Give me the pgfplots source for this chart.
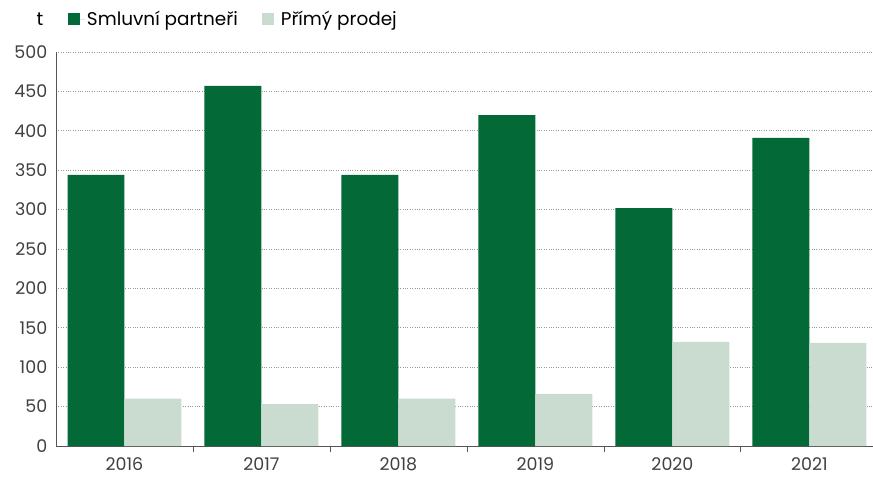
\documentclass[border=0pt]{standalone}
\usepackage{fontspec}
\setmainfont{Poppins}
\usepackage{pgfplots}
\pgfplotsset{compat=1.18}
\definecolor{darkg}{HTML}{036937}
\definecolor{lightg}{HTML}{CADCD0}
\definecolor{axgray}{HTML}{555555}
\begin{document}
\begin{tikzpicture}
\useasboundingbox (-56bp,-37bp) rectangle (817bp,446bp);
\begin{axis}[
  scale only axis, clip=false,
  width=817bp, height=394bp,
  xmin=-0.5, xmax=5.464,
  ymin=0, ymax=500,
  ybar=0pt, bar width=0.416,
  axis x line*=bottom, axis y line*=left,
  axis line style={-, draw=axgray, line width=0.9pt},
  xtick={0,...,5},
  xticklabels={2016,2017,2018,2019,2020,2021},
  minor xtick={0.5,1.5,2.5,3.5,4.5},
  major x tick style={draw=none},
  minor x tick style={draw=axgray, line width=0.9pt},
  minor tick length=6bp,
  tick align=outside,
  ytick={0,50,...,500},
  major y tick style={draw=none},
  ymajorgrids,
  grid style={dotted, gray!80, line width=0.6pt},
  tick label style={font=\fontsize{17.5}{20}\selectfont, text=black!75},
  /pgf/number format/assume math mode=true,
  yticklabel style={xshift=-1bp},
  xticklabel style={yshift=-4bp},
  legend columns=2,
  legend style={draw=none, fill=none, inner sep=0pt, outer sep=0pt,
    at={(axis description cs:0,1)}, anchor=west, xshift=12bp, yshift=33bp,
    font=\fontsize{18.5}{22}\selectfont,
    /tikz/every even column/.append style={column sep=22bp}},
  legend image code/.code={\fill[#1] (0bp,-6bp) rectangle (12bp,6bp); \path (0bp,0bp) rectangle (17bp,0bp);},
]
\addplot[fill=darkg, draw=none] coordinates {(0,344) (1,457) (2,344) (3,420) (4,302) (5,391)};
\addplot[fill=lightg, draw=none] coordinates {(0,60) (1,53) (2,60) (3,66) (4,132) (5,131)};
\legend{Smluvní partneři, Přímý prodej}
\node[font=\fontsize{18.5}{22}\selectfont, anchor=center] at (rel axis cs:0,1) [xshift=-16bp, yshift=33bp] {t};
\end{axis}
\end{tikzpicture}
\end{document}
